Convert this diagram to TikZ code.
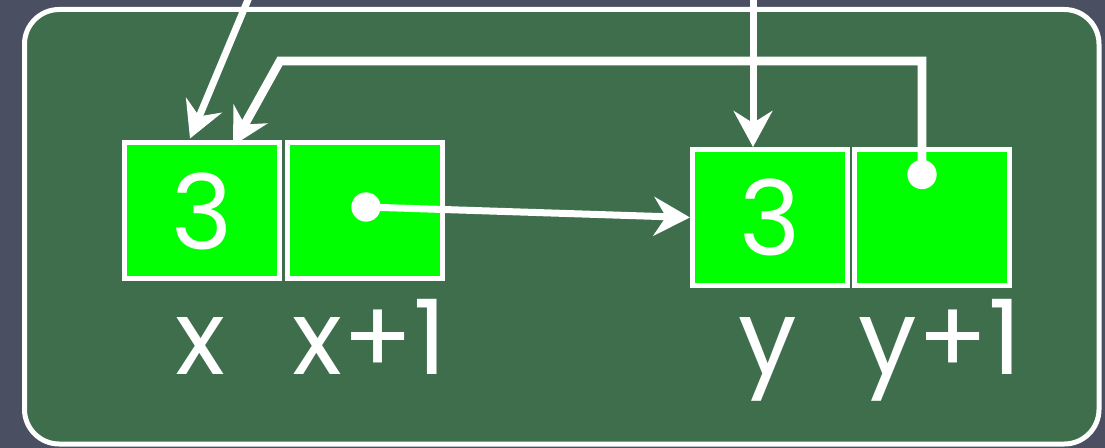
\documentclass[tikz,border=0pt]{standalone}
\usepackage{fontspec}
\setmainfont{Poppins}
\usetikzlibrary{arrows.meta,calc}
\definecolor{slate}{HTML}{4A5061}
\definecolor{board}{HTML}{3F6E4D}
\definecolor{cellgreen}{HTML}{00FF00}
\begin{document}
\begin{tikzpicture}[x=0.75pt,y=-0.75pt,
  cell/.style={draw=white,line width=3.75pt,fill=cellgreen,minimum width=116.25pt,minimum height=102pt,inner sep=0pt,text=white,font=\fontsize{78}{78}\selectfont},
  dot/.style={circle,fill=white,minimum size=22pt,inner sep=0pt},
  ptr/.style={draw=white,line width=5.25pt,-{Stealth[length=27pt,width=29pt,inset=9pt]}},
  lbl/.style={text=white,font=\fontsize{78}{78}\selectfont,anchor=base,inner sep=0pt}]
\useasboundingbox (0,0) rectangle (1105,448);
\fill[slate] (0,0) rectangle (1105,448);
\draw[white,line width=3.75pt,fill=board,rounded corners=26pt] (24.5,9.5) rectangle (1099,444);
% cells
\node[cell] (b1) at (202,211) {3};
\node[cell] (b2) at (365,211) {};
\node[cell] (b3) at (770,217.5) {3};
\node[cell] (b4) at (932,217.5) {};
% labels
\node[lbl] (lx)  at (200,374) {x};
\node[lbl] (lx1) at (370,374) {x+1};
\node[lbl] (ly)  at (768,374) {y};
\node[lbl] (ly1) at (940,374) {y+1};
% free ends
\coordinate (s1) at (250,-5);
\coordinate (s3) at (753,-5);
\coordinate (bend) at (280,61);
% pointers
\draw[ptr] (s1) -- ($(b1.north)+(-12,-2)$);
\draw[ptr] (s3) -- (s3 |- b3.north);
\draw[ptr] (b2.center) ++(1,-4) coordinate (d1c) -- (b3.west);
\draw[ptr,line width=6.5pt] (b4.center) ++(-10,-43) coordinate (d2c) |- (bend) -- ($(b1.north)+(31,5)$);
\node[dot] (d1) at (d1c) {};
\node[dot] (d2) at (d2c) {};
\end{tikzpicture}
\end{document}
